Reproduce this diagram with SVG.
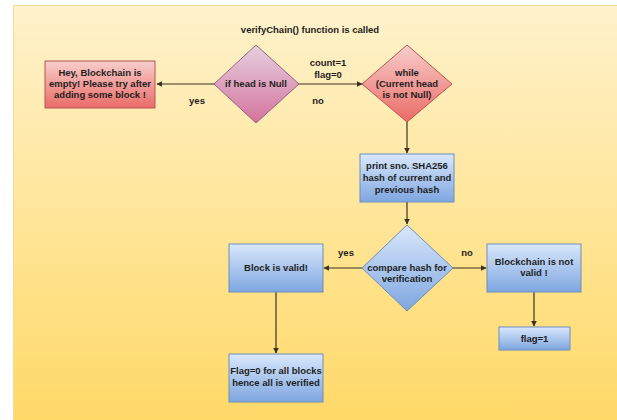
<svg xmlns="http://www.w3.org/2000/svg" width="617" height="420" viewBox="0 0 617 420">
  <defs>
    <linearGradient id="bgGrad" x1="0" y1="0" x2="0" y2="1">
      <stop offset="0" stop-color="#fff2cc"/>
      <stop offset="1" stop-color="#ffd966"/>
    </linearGradient>
    <linearGradient id="redGrad" x1="0" y1="0" x2="0" y2="1">
      <stop offset="0" stop-color="#f8cecc"/>
      <stop offset="1" stop-color="#ea6b66"/>
    </linearGradient>
    <linearGradient id="pinkGrad" x1="0" y1="0" x2="0" y2="1">
      <stop offset="0" stop-color="#e6d0de"/>
      <stop offset="1" stop-color="#d5739d"/>
    </linearGradient>
    <linearGradient id="blueGrad" x1="0" y1="0" x2="0" y2="1">
      <stop offset="0" stop-color="#dae8fc"/>
      <stop offset="1" stop-color="#7ea6e0"/>
    </linearGradient>
    <marker id="arrow" viewBox="0 0 10 10" refX="9" refY="5" markerWidth="6" markerHeight="6" orient="auto" markerUnits="userSpaceOnUse">
      <path d="M0,0 L10,5 L0,10 z" fill="#3b3222"/>
    </marker>
  </defs>
  <style>
    text { font-family: "Liberation Sans", Arial, sans-serif; font-size: 9.5px; font-weight: bold; fill: #1e1e1e; text-anchor: middle; }
    .red { fill: url(#redGrad); stroke: #b85450; stroke-width: 1; }
    .pink { fill: url(#pinkGrad); stroke: #996185; stroke-width: 1; }
    .blue { fill: url(#blueGrad); stroke: #6c8ebf; stroke-width: 1; }
    .edge { fill: none; stroke: #3b3222; stroke-width: 1.2; marker-end: url(#arrow); }
  </style>

  <!-- page background -->
  <rect x="0" y="0" width="617" height="420" fill="#ffffff"/>
  <rect x="13.5" y="5.5" width="610" height="420" fill="url(#bgGrad)" stroke="#eedc9a" stroke-width="1"/>

  <!-- heading -->
  <text id="title" x="310" y="33">verifyChain() function is called</text>

  <!-- connectors -->
  <g id="connectors">
    <line class="edge" x1="214" y1="84" x2="157" y2="84"/>
    <line class="edge" x1="299" y1="84" x2="362" y2="84"/>
    <line class="edge" x1="407" y1="122" x2="407" y2="153"/>
    <line class="edge" x1="407" y1="202" x2="407" y2="224"/>
    <line class="edge" x1="362" y1="268" x2="324" y2="268"/>
    <line class="edge" x1="452" y1="268" x2="486" y2="268"/>
    <line class="edge" x1="534" y1="292" x2="534" y2="326"/>
    <line class="edge" x1="276" y1="292" x2="276" y2="353"/>
    <text x="197" y="104">yes</text>
    <text x="318" y="104">no</text>
    <text x="328" y="66">count=1</text>
    <text x="328" y="78">flag=0</text>
    <text x="346" y="256">yes</text>
    <text x="467" y="256">no</text>
  </g>

  <!-- nodes -->
  <g id="empty-chain">
    <rect class="red" x="45" y="61" width="110" height="47"/>
    <text x="100" y="76">Hey, Blockchain is</text>
    <text x="100" y="87">empty! Please try after</text>
    <text x="100" y="98">adding some block !</text>
  </g>

  <g id="head-null">
    <polygon class="pink" points="256,45 299,84 256,123 214,84"/>
    <text x="256" y="87">if head is Null</text>
  </g>

  <g id="while-loop">
    <polygon class="red" points="407,45 452,84 407,122 362,84"/>
    <text x="407" y="76">while</text>
    <text x="407" y="87">(Current head</text>
    <text x="407" y="98">is not Null)</text>
  </g>

  <g id="print-hash">
    <rect class="blue" x="360" y="154" width="94" height="48"/>
    <text x="407" y="169">print sno. SHA256</text>
    <text x="407" y="181">hash of current and</text>
    <text x="407" y="193">previous hash</text>
  </g>

  <g id="compare-hash">
    <polygon class="blue" points="407,225 453,268 407,311 362,268"/>
    <text x="407" y="271">compare hash for</text>
    <text x="407" y="282">verification</text>
  </g>

  <g id="block-valid">
    <rect class="blue" x="229" y="244" width="94" height="48"/>
    <text x="276" y="271">Block is valid!</text>
  </g>

  <g id="chain-invalid">
    <rect class="blue" x="487" y="244" width="94" height="48"/>
    <text x="534" y="265">Blockchain is not</text>
    <text x="534" y="276">valid !</text>
  </g>

  <g id="flag-one">
    <rect class="blue" x="499" y="327" width="71" height="23"/>
    <text x="534.5" y="342">flag=1</text>
  </g>

  <g id="all-verified">
    <rect class="blue" x="229" y="354" width="94" height="48"/>
    <text x="276" y="374">Flag=0 for all blocks</text>
    <text x="276" y="386">hence all is verified</text>
  </g>
</svg>
